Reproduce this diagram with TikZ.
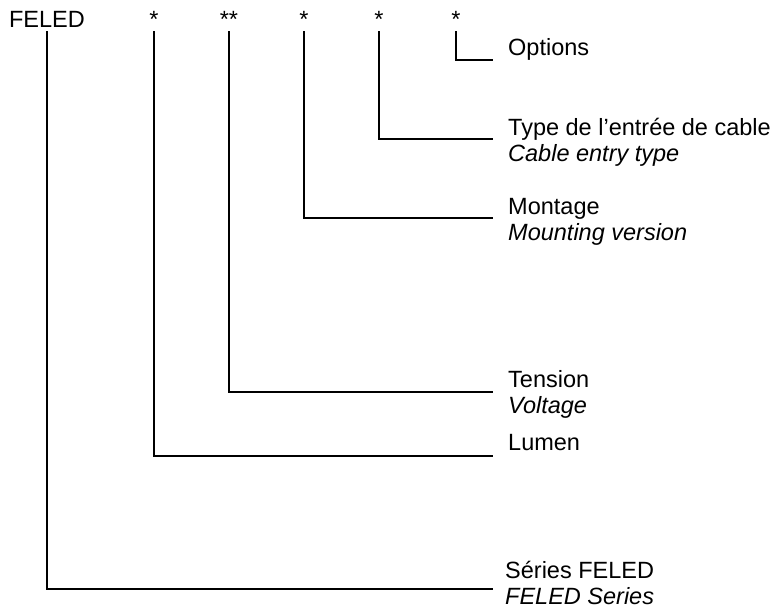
\documentclass[tikz,border=0pt]{standalone}
\usepackage{fontspec}
\setmainfont{Liberation Sans}
\begin{document}
\begin{tikzpicture}[x=1pt, y=-1pt,
  txt/.style={font=\fontsize{23.5}{26}\selectfont},
  code/.style={txt, anchor=base, inner sep=2pt, outer sep=2pt},
  lbl/.style={txt, anchor=base west, inner sep=0pt, align=left},
  conn/.style={line width=1.8pt}]
\useasboundingbox (0,0) rectangle (778,611);
\node[code] (feled) at (47,27) {FELED};
\node[code] (s1) at (154,27) {*};
\node[code] (s2) at (229,27) {**};
\node[code] (s3) at (304,27) {*};
\node[code] (s4) at (379,27) {*};
\node[code] (s5) at (456,27) {*};
% labels (base = last line)
\node[lbl] (opt) at (508,55) {Options};
\node[lbl] (typ) at (508,161) {Type de l’entrée de cable\\\textit{Cable entry type}};
\node[lbl] (mont) at (508,240) {Montage\\\textit{Mounting version}};
\node[lbl] (tens) at (508,413) {Tension\\\textit{Voltage}};
\node[lbl] (lum) at (508,450) {Lumen};
\node[lbl] (ser) at (505,604) {Séries FELED\\\textit{FELED Series}};
% Leader ends:
\coordinate (opt-in) at (493,60);
\coordinate (typ-in) at (493,139);
\coordinate (mont-in) at (493,218);
\coordinate (tens-in) at (493,392);
\coordinate (lum-in) at (493,456);
\coordinate (ser-in) at (493,589);
\draw[conn] (s5.south) |- (opt-in);
\draw[conn] (s4.south) |- (typ-in);
\draw[conn] (s3.south) |- (mont-in);
\draw[conn] (s2.south) |- (tens-in);
\draw[conn] (s1.south) |- (lum-in);
\draw[conn] (feled.south) |- (ser-in);
\end{tikzpicture}
\end{document}
